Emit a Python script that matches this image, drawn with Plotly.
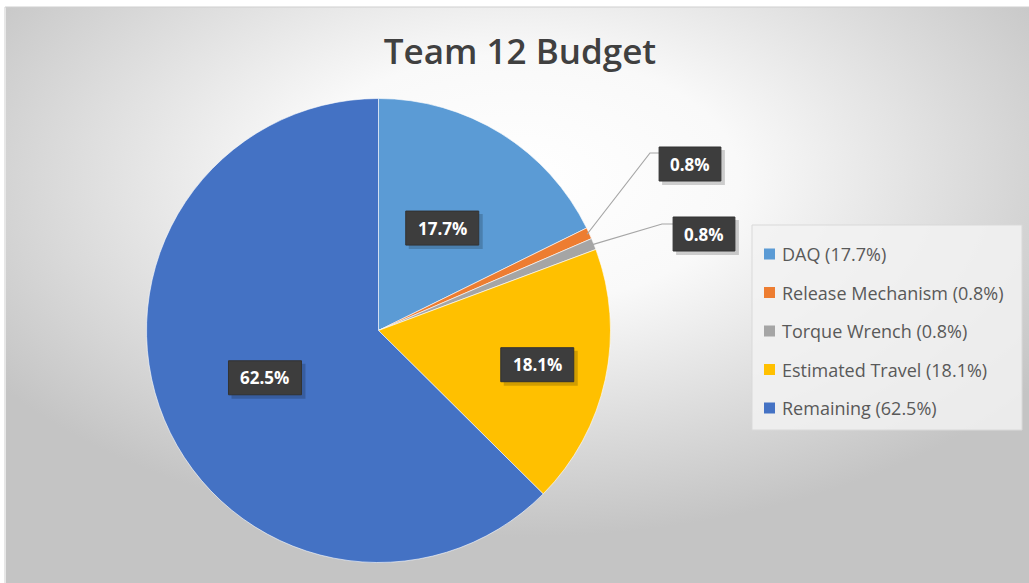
import base64
import math
import plotly.graph_objects as go

# ---- data ----
categories = ["DAQ", "Release Mechanism", "Torque Wrench", "Estimated Travel", "Remaining"]
percent_values = [17.7, 0.8, 0.8, 18.1, 62.5]
colors = ["#5B9BD5", "#ED7D31", "#A5A5A5", "#FFC000", "#4472C4"]
title_text = "Team 12 Budget"

W, H = 1029, 583
# pie geometry (pixels)
CX, CY, R = 378.5, 330.5, 232
# label placement per slice: radial fraction for inside labels, or None for outside with leader
inside_frac = [0.52, None, None, 0.70, 0.53]
outside_box = {1: (690, 164), 2: (704, 234)}      # box centres (px) for small slices
outside_elbow = {1: (650, 153), 2: (662, 224)}
FONT = "Open Sans, Noto Sans, sans-serif"


def px(x):
    return x / W


def py(y):
    return 1 - y / H


fig = go.Figure()

fig.add_trace(go.Pie(
    labels=categories,
    values=percent_values,
    marker=dict(colors=colors, line=dict(color="rgba(255,255,255,0.6)", width=1)),
    sort=False,
    direction="clockwise",
    rotation=0,
    textinfo="none",
    hoverinfo="label+percent",
    showlegend=False,
    domain=dict(x=[px(CX - R), px(CX + R)], y=[py(CY + R), py(CY - R)]),
))

# background radial gradient (SVG data URI)
svg = f'''<svg xmlns="http://www.w3.org/2000/svg" width="{W}" height="{H}" viewBox="0 0 {W} {H}" preserveAspectRatio="none">
<defs><radialGradient id="g" cx="0.5" cy="0.3" r="0.62" gradientUnits="objectBoundingBox">
<stop offset="0" stop-color="#ffffff"/><stop offset="0.35" stop-color="#f9f9f9"/>
<stop offset="1" stop-color="#c4c4c4"/></radialGradient></defs>
<rect x="0" y="0" width="{W}" height="{H}" fill="url(#g)"/></svg>'''
src = "data:image/svg+xml;base64," + base64.b64encode(svg.encode()).decode()

annotations = []
shapes = []

label_font = dict(family=FONT, size=17, color="white", weight="bold")


def add_label(x, y, txt):
    n = len(txt)
    bw = 11.2 * n + 17
    bh = 34
    # soft shadow
    shapes.append(dict(type="rect", xref="paper", yref="paper",
                       x0=px(x - bw / 2 + 3), x1=px(x + bw / 2 + 4),
                       y0=py(y + bh / 2 + 4), y1=py(y - bh / 2 + 3),
                       fillcolor="rgba(0,0,0,0.18)", line=dict(width=0), layer="above"))
    shapes.append(dict(type="rect", xref="paper", yref="paper",
                       x0=px(x - bw / 2), x1=px(x + bw / 2),
                       y0=py(y + bh / 2), y1=py(y - bh / 2),
                       fillcolor="#3d3d3d", line=dict(color="#333333", width=1), layer="above"))
    annotations.append(dict(x=px(x), y=py(y), xref="paper", yref="paper", xanchor="center",
                            yanchor="middle", text=txt, showarrow=False, font=label_font))


total = sum(percent_values)
cum = 0.0
for i, v in enumerate(percent_values):
    mid = (cum + v / 2) / total * 2 * math.pi
    cum += v
    txt = f"{v:.1f}%"
    if inside_frac[i] is not None:
        r = inside_frac[i] * R
        x = CX + r * math.sin(mid)
        y = CY - r * math.cos(mid)
        add_label(x, y, txt)
    else:
        ex = CX + R * 0.99 * math.sin(mid)
        ey = CY - R * 0.99 * math.cos(mid)
        bx, by = outside_box[i]
        lx, ly = outside_elbow[i]
        bw = 11.2 * len(txt) + 17
        shapes.append(dict(type="path", xref="paper", yref="paper",
                           path=f"M {px(ex)},{py(ey)} L {px(lx)},{py(ly)} L {px(bx - bw / 2)},{py(ly)}",
                           line=dict(color="#a6a6a6", width=1.2)))
        add_label(bx, by, txt)

# manual legend
LX0, LY0, LX1, LY1 = 752, 225, 1022, 430
shapes.append(dict(type="rect", xref="paper", yref="paper", x0=px(LX0), x1=px(LX1), y0=py(LY1), y1=py(LY0),
                   fillcolor="rgba(242,242,242,0.85)", line=dict(color="#d9d9d9", width=1), layer="above"))
row_y0, row_dy = 254, 38.5
for i, (c, v) in enumerate(zip(categories, percent_values)):
    ry = row_y0 + i * row_dy
    shapes.append(dict(type="rect", xref="paper", yref="paper", x0=px(764), x1=px(775),
                       y0=py(ry + 5.5), y1=py(ry - 5.5), fillcolor=colors[i], line=dict(width=0), layer="above"))
    annotations.append(dict(x=px(780), y=py(ry), xref="paper", yref="paper", xanchor="left", yanchor="middle",
                            text=f"{c} ({v:.1f}%)", showarrow=False,
                            font=dict(family=FONT, size=18, color="#595959")))

# thin frame line at top/left of chart area
shapes.append(dict(type="rect", xref="paper", yref="paper", x0=px(5), x1=px(W + 5), y0=py(H + 5), y1=py(7),
                   line=dict(color="#cfcfcf", width=1), fillcolor="rgba(0,0,0,0)", layer="below"))

fig.update_layout(
    width=W, height=H,
    margin=dict(l=0, r=0, t=0, b=0),
    paper_bgcolor="white",
    plot_bgcolor="rgba(0,0,0,0)",
    title=dict(text=title_text, x=px(520), y=py(52), xanchor="center", yanchor="middle",
               font=dict(family=FONT, size=35, color="#404040", weight=600)),
    images=[dict(source=src, xref="paper", yref="paper", x=px(6), y=py(7),
                 sizex=(W - 6) / W, sizey=(H - 7) / H, xanchor="left", yanchor="top",
                 sizing="stretch", layer="below")],
    shapes=shapes,
    annotations=annotations,
)

fig.write_html("out.html", config={"displayModeBar": False},
               post_script="document.body.style.margin='0';document.body.style.overflow='hidden';")
